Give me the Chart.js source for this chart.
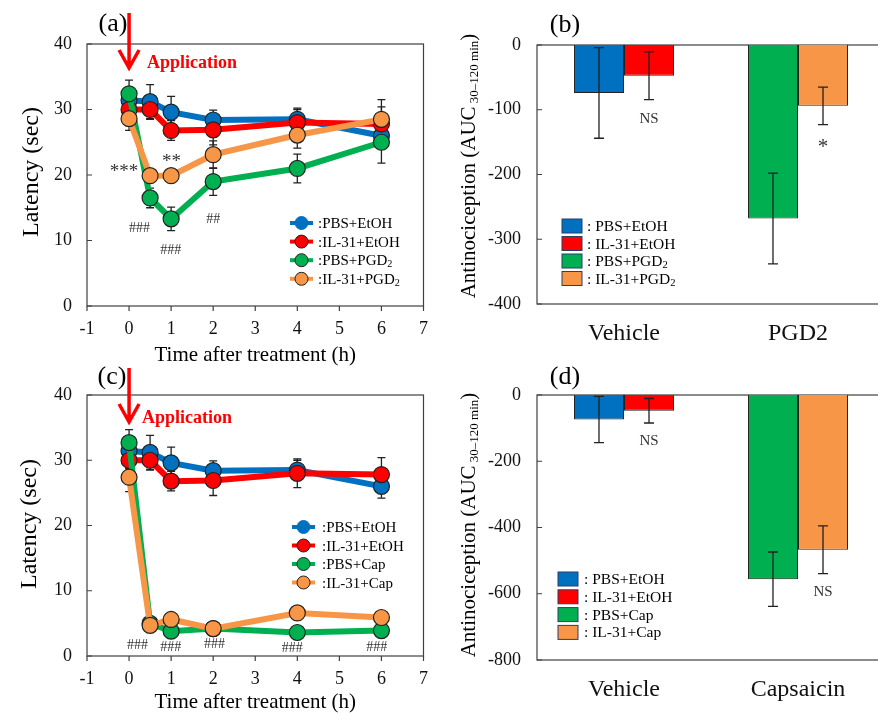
<!DOCTYPE html>
<html>
<head>
<meta charset="utf-8">
<script src="https://cdn.jsdelivr.net/npm/chart.js@4.4.1/dist/chart.umd.min.js"></script>
<style>
    html, body { margin: 0; padding: 0; background: #fff; width: 878px; height: 713px; overflow: hidden; }
    canvas { position: absolute; }
</style>
</head>
<body>
<canvas id="chart-a" width="440" height="370" style="left:0;top:0"></canvas>
<canvas id="chart-b" width="450" height="360" style="left:440px;top:0"></canvas>
<canvas id="chart-c" width="440" height="363" style="left:0;top:350px"></canvas>
<canvas id="chart-d" width="450" height="363" style="left:440px;top:350px"></canvas>
<script>
// time points (h) and tick labels
const hours = [0, 0.5, 1, 2, 4, 6];
const timeTicks = [-1, 0, 1, 2, 3, 4, 5, 6, 7];
const latencyTicks = [0, 10, 20, 30, 40];

// latency (sec), mean and SEM - controls shared by (a) and (c)
const latPbsEtoh = [31.4, 31.2, 29.6, 28.4, 28.5, 26.0];
const latPbsEtohErr = [1.5, 2.6, 2.4, 1.5, 1.5, 1.8];
const latIl31Etoh = [30.0, 30.0, 26.8, 26.9, 28.0, 27.8];
const latIl31EtohErr = [1.3, 1.5, 1.5, 2.3, 2.2, 2.6];

// (a) PGD2
const latPbsPgd2 = [32.4, 16.5, 13.3, 19.0, 21.0, 25.0];
const latPbsPgd2Err = [2.1, 1.5, 1.8, 2.1, 2.2, 3.2];
const latIl31Pgd2 = [28.6, 19.9, 19.9, 23.1, 26.1, 28.5];
const latIl31Pgd2Err = [1.8, 1.0, 1.0, 2.1, 2.0, 3.0];

// (c) capsaicin
const latPbsCap = [32.7, 5.0, 3.8, 4.2, 3.6, 3.9];
const latPbsCapErr = [2.0, 0.6, 0.5, 0.5, 0.5, 0.6];
const latIl31Cap = [27.4, 4.7, 5.6, 4.2, 6.6, 5.9];
const latIl31CapErr = [2.2, 0.6, 0.8, 0.6, 0.9, 0.8];

// (b) AUC 30-120 min
const aucCategoriesB = ['Vehicle', 'PGD2'];
const aucTicksB = [-400, -300, -200, -100, 0];
const aucPbsB = [-74, -268];
const aucPbsBErr = [70, 70];
const aucIl31B = [-47.5, -94];
const aucIl31BErr = [37, 29];

// (d) AUC 30-120 min
const aucCategoriesD = ['Vehicle', 'Capsaicin'];
const aucTicksD = [-800, -600, -400, -200, 0];
const aucPbsD = [-74, -556];
const aucPbsDErr = [70, 82];
const aucIl31D = [-47.5, -467];
const aucIl31DErr = [37, 72];

const SERIF = "'Liberation Serif', 'Times New Roman', 'DejaVu Serif', serif";
const BLUE = '#0070C0';
const RED = '#FF0000';
const GREEN = '#00B050';
const ORANGE = '#F79646';
const INK = '#222';

const font = (size, bold) => `${bold ? 'bold ' : ''}${size}px ${SERIF}`;

// draws text made of several runs (for subscripts), y is the baseline
const drawRich = (ctx, parts, x, y, align = 'left') => {
    let width = 0;
    parts.forEach((p) => {
        ctx.font = font(p.size, p.bold);
        width += ctx.measureText(p.text).width;
    });
    let cx = align === 'center' ? x - width / 2 : x;
    ctx.textAlign = 'left';
    ctx.textBaseline = 'alphabetic';
    parts.forEach((p) => {
        ctx.font = font(p.size, p.bold);
        ctx.fillStyle = p.color || '#000';
        ctx.fillText(p.text, cx, y + (p.dy || 0));
        cx += ctx.measureText(p.text).width;
    });
};

const labelParts = (label, size) => {
    const parts = [{ text: label[0], size }];
    if (label[1]) {
        parts.push({ text: label[1], size: size * 0.68, dy: 2 });
    }
    return parts;
};

const drawRotated = (ctx, parts, cx, cy) => {
    ctx.save();
    ctx.translate(cx, cy);
    ctx.rotate(-Math.PI / 2);
    drawRich(ctx, parts, 0, parts[0].size * 0.35, 'center');
    ctx.restore();
};

const drawText = (ctx, text, x, y, size, color = '#000', bold = false) => {
    ctx.font = font(size, bold);
    ctx.fillStyle = color;
    ctx.textAlign = 'center';
    ctx.textBaseline = 'middle';
    ctx.fillText(text, x, y);
};

const drawArrow = (ctx, x, top, tip) => {
    ctx.save();
    ctx.strokeStyle = RED;
    ctx.lineWidth = 3.5;
    ctx.beginPath();
    ctx.moveTo(x, top);
    ctx.lineTo(x, tip - 2);
    ctx.moveTo(x - 10, tip - 18);
    ctx.lineTo(x, tip);
    ctx.lineTo(x + 10, tip - 18);
    ctx.stroke();
    ctx.restore();
};

const drawLineLegend = (ctx, items, x, y, gap, textX) => {
    items.forEach((item, i) => {
        const yy = y + i * gap;
        ctx.strokeStyle = item.color;
        ctx.lineWidth = 4;
        ctx.beginPath();
        ctx.moveTo(x, yy);
        ctx.lineTo(x + 23, yy);
        ctx.stroke();
        ctx.beginPath();
        ctx.arc(x + 11.5, yy, 6.5, 0, Math.PI * 2);
        ctx.fillStyle = item.color;
        ctx.fill();
        ctx.lineWidth = 1;
        ctx.strokeStyle = i === 0 ? item.color : INK;
        ctx.stroke();
        drawRich(ctx, labelParts(item.label, 15), textX, yy + 5);
    });
};

const drawBoxLegend = (ctx, items, x, y, gap, textX) => {
    items.forEach((item, i) => {
        const yy = y + i * gap;
        ctx.fillStyle = item.color;
        ctx.fillRect(x, yy - 7, 20, 14);
        ctx.strokeStyle = '#2b3f66';
        ctx.lineWidth = 1;
        ctx.strokeRect(x, yy - 7, 20, 14);
        drawRich(ctx, labelParts(item.label, 15.5), textX, yy + 5);
    });
};

const framePlugin = (yTicks, xTicks) => ({
    id: 'frame',
    beforeDatasetsDraw(chart) {
        const { ctx, chartArea: a, scales } = chart;
        ctx.save();
        ctx.strokeStyle = '#404040';
        ctx.lineWidth = 1.2;
        ctx.strokeRect(a.left, a.top, a.right - a.left, a.bottom - a.top);
        ctx.beginPath();
        yTicks.forEach((v) => {
            const y = scales.y.getPixelForValue(v);
            ctx.moveTo(a.left, y);
            ctx.lineTo(a.left + 5, y);
        });
        (xTicks || []).forEach((v) => {
            const x = scales.x.getPixelForValue(v);
            ctx.moveTo(x, a.bottom);
            ctx.lineTo(x, a.bottom + 5);
        });
        ctx.stroke();
        ctx.restore();
    },
});

const errorBarPlugin = (cap, onTop) => ({
    id: 'errorBars',
    [onTop ? 'afterDatasetsDraw' : 'beforeDatasetsDraw'](chart) {
        const { ctx, scales } = chart;
        ctx.save();
        ctx.strokeStyle = INK;
        ctx.lineWidth = 1.3;
        chart.data.datasets.forEach((ds, di) => {
            const meta = chart.getDatasetMeta(di);
            meta.data.forEach((el, i) => {
                const d = ds.data[i];
                const v = typeof d === 'object' ? d.y : d;
                const e = ds.errors[i];
                const top = scales.y.getPixelForValue(v + e);
                const bottom = scales.y.getPixelForValue(v - e);
                ctx.beginPath();
                ctx.moveTo(el.x, top);
                ctx.lineTo(el.x, bottom);
                ctx.moveTo(el.x - cap, top);
                ctx.lineTo(el.x + cap, top);
                ctx.moveTo(el.x - cap, bottom);
                ctx.lineTo(el.x + cap, bottom);
                ctx.stroke();
            });
        });
        ctx.restore();
    },
});

const decoPlugin = (draw) => ({
    id: 'deco',
    afterDraw(chart) {
        chart.ctx.save();
        draw(chart, chart.ctx);
        chart.ctx.restore();
    },
});

const lineSeries = (label, ys, errs, color, order) => ({
    label,
    data: hours.map((h, i) => ({ x: h, y: ys[i] })),
    errors: errs,
    order,
    borderColor: color,
    backgroundColor: color,
    borderWidth: 6,
    tension: 0,
    pointRadius: 8,
    pointBackgroundColor: color,
    pointBorderColor: INK,
    pointBorderWidth: 1.2,
});

const tickFont = (size) => ({ family: SERIF, size });

const lineOptions = (top, xHeight) => ({
    responsive: false,
    animation: false,
    events: [],
    layout: { padding: { top, right: 7, left: 0, bottom: 0 } },
    plugins: { legend: { display: false }, tooltip: { enabled: false } },
    scales: {
        x: {
            type: 'linear',
            min: -1,
            max: 7,
            afterBuildTicks: (s) => { s.ticks = timeTicks.map((value) => ({ value })); },
            afterFit: (s) => { s.height = xHeight; },
            grid: { display: false, drawTicks: false },
            border: { display: false },
            ticks: { padding: 12, color: '#111', font: tickFont(18) },
        },
        y: {
            min: 0,
            max: 40,
            afterBuildTicks: (s) => { s.ticks = latencyTicks.map((value) => ({ value })); },
            afterFit: (s) => { s.width = 87; },
            grid: { display: false, drawTicks: false },
            border: { display: false },
            ticks: { padding: 15, color: '#111', font: tickFont(18) },
        },
    },
});

const barOptions = (top, xHeight, min, ticks) => ({
    responsive: false,
    animation: false,
    events: [],
    layout: { padding: { top, right: 5, left: 0, bottom: 0 } },
    plugins: { legend: { display: false }, tooltip: { enabled: false } },
    scales: {
        x: {
            afterFit: (s) => { s.height = xHeight; },
            grid: { display: false, drawTicks: false },
            border: { display: false },
            ticks: { padding: 15, color: '#111', font: tickFont(24) },
        },
        y: {
            min,
            max: 0,
            afterBuildTicks: (s) => { s.ticks = ticks.map((value) => ({ value })); },
            afterFit: (s) => { s.width = 97; },
            grid: { display: false, drawTicks: false },
            border: { display: false },
            ticks: { padding: 16, color: '#111', font: tickFont(18) },
        },
    },
});

const barSeries = (label, values, errs, colors) => ({
    label,
    data: values,
    errors: errs,
    backgroundColor: colors,
    borderColor: INK,
    borderWidth: 1,
    categoryPercentage: 0.575,
    barPercentage: 1,
});

const drawAt = (chart, items) => {
    const { ctx, scales } = chart;
    items.forEach((s) => {
        drawText(ctx, s.text, scales.x.getPixelForValue(s.x), scales.y.getPixelForValue(s.y), s.size, '#333');
    });
};

const drawUnderBar = (chart, di, i, text, value, size) => {
    const el = chart.getDatasetMeta(di).data[i];
    drawText(chart.ctx, text, el.x, chart.scales.y.getPixelForValue(value), size, '#333');
};

const aucTitle = [
    { text: 'Antinociception (AUC', size: 21 },
    { text: ' 30\u2013120 min', size: 13, dy: 3 },
    { text: ')', size: 21 },
];

// (a)
new Chart(document.getElementById('chart-a'), {
    type: 'line',
    data: {
        datasets: [
            lineSeries('PBS+EtOH', latPbsEtoh, latPbsEtohErr, BLUE, 4),
            lineSeries('IL-31+EtOH', latIl31Etoh, latIl31EtohErr, RED, 3),
            lineSeries('PBS+PGD2', latPbsPgd2, latPbsPgd2Err, GREEN, 2),
            lineSeries('IL-31+PGD2', latIl31Pgd2, latIl31Pgd2Err, ORANGE, 1),
        ],
    },
    options: lineOptions(44, 64),
    plugins: [
        framePlugin(latencyTicks, timeTicks),
        errorBarPlugin(4, false),
        decoPlugin((chart, ctx) => {
            const a = chart.chartArea;
            const x0 = chart.scales.x.getPixelForValue(0);
            drawText(ctx, '(a)', 113, 24, 26);
            drawArrow(ctx, x0, 13, a.top + 24);
            drawRich(ctx, [{ text: 'Application', size: 18, bold: true, color: RED }], x0 + 18, a.top + 24);
            drawRotated(ctx, [{ text: 'Latency (sec)', size: 24 }], 30, 172);
            drawRich(ctx, [{ text: 'Time after treatment (h)', size: 21 }], (a.left + a.right) / 2, 361, 'center');
            drawAt(chart, [
                { text: '***', x: -0.12, y: 20.4, size: 19 },
                { text: '**', x: 1.01, y: 22.0, size: 19 },
                { text: '###', x: 0.25, y: 11.9, size: 14 },
                { text: '###', x: 0.99, y: 8.5, size: 14 },
                { text: '##', x: 2.0, y: 13.3, size: 14 },
            ]);
            drawLineLegend(ctx, [
                { label: [':PBS+EtOH'], color: BLUE },
                { label: [':IL-31+EtOH'], color: RED },
                { label: [':PBS+PGD', '2'], color: GREEN },
                { label: [':IL-31+PGD', '2'], color: ORANGE },
            ], 290, 223, 18.6, 318);
        }),
    ],
});

// (b)
new Chart(document.getElementById('chart-b'), {
    type: 'bar',
    data: {
        labels: aucCategoriesB,
        datasets: [
            barSeries('PBS', aucPbsB, aucPbsBErr, [BLUE, GREEN]),
            barSeries('IL-31', aucIl31B, aucIl31BErr, [RED, ORANGE]),
        ],
    },
    options: barOptions(45, 56, -400, aucTicksB),
    plugins: [
        framePlugin(aucTicksB, null),
        errorBarPlugin(5, true),
        decoPlugin((chart, ctx) => {
            drawText(ctx, '(b)', 125, 25, 26);
            drawRotated(ctx, aucTitle, 28, 166);
            drawUnderBar(chart, 1, 0, 'NS', -114, 15);
            drawUnderBar(chart, 1, 1, '*', -158, 21);
            drawBoxLegend(ctx, [
                { label: [': PBS+EtOH'], color: BLUE },
                { label: [': IL-31+EtOH'], color: RED },
                { label: [': PBS+PGD', '2'], color: GREEN },
                { label: [': IL-31+PGD', '2'], color: ORANGE },
            ], 122, 226, 17.5, 147);
        }),
    ],
});

// (c)
new Chart(document.getElementById('chart-c'), {
    type: 'line',
    data: {
        datasets: [
            lineSeries('PBS+EtOH', latPbsEtoh, latPbsEtohErr, BLUE, 4),
            lineSeries('IL-31+EtOH', latIl31Etoh, latIl31EtohErr, RED, 3),
            lineSeries('PBS+Cap', latPbsCap, latPbsCapErr, GREEN, 2),
            lineSeries('IL-31+Cap', latIl31Cap, latIl31CapErr, ORANGE, 1),
        ],
    },
    options: lineOptions(45, 57),
    plugins: [
        framePlugin(latencyTicks, timeTicks),
        errorBarPlugin(4, false),
        decoPlugin((chart, ctx) => {
            const a = chart.chartArea;
            const x0 = chart.scales.x.getPixelForValue(0);
            drawText(ctx, '(c)', 112, 27, 26);
            drawArrow(ctx, x0, 18, a.top + 27);
            drawRich(ctx, [{ text: 'Application', size: 18, bold: true, color: RED }], x0 + 13, a.top + 28);
            drawRotated(ctx, [{ text: 'Latency (sec)', size: 24 }], 28, 174);
            drawRich(ctx, [{ text: 'Time after treatment (h)', size: 21 }], (a.left + a.right) / 2, 358, 'center');
            drawAt(chart, [
                { text: '###', x: 0.2, y: 1.7, size: 14 },
                { text: '###', x: 0.99, y: 1.4, size: 14 },
                { text: '###', x: 2.03, y: 1.8, size: 14 },
                { text: '###', x: 3.88, y: 1.2, size: 14 },
                { text: '###', x: 5.89, y: 1.4, size: 14 },
            ]);
            drawLineLegend(ctx, [
                { label: [':PBS+EtOH'], color: BLUE },
                { label: [':IL-31+EtOH'], color: RED },
                { label: [':PBS+Cap'], color: GREEN },
                { label: [':IL-31+Cap'], color: ORANGE },
            ], 292, 177, 18.5, 322);
        }),
    ],
});

// (d)
new Chart(document.getElementById('chart-d'), {
    type: 'bar',
    data: {
        labels: aucCategoriesD,
        datasets: [
            barSeries('PBS', aucPbsD, aucPbsDErr, [BLUE, GREEN]),
            barSeries('IL-31', aucIl31D, aucIl31DErr, [RED, ORANGE]),
        ],
    },
    options: barOptions(45, 53, -800, aucTicksD),
    plugins: [
        framePlugin(aucTicksD, null),
        errorBarPlugin(5, true),
        decoPlugin((chart, ctx) => {
            drawText(ctx, '(d)', 125, 27, 26);
            drawRotated(ctx, aucTitle, 28, 175);
            drawUnderBar(chart, 1, 0, 'NS', -138, 15);
            drawUnderBar(chart, 1, 1, 'NS', -595, 15);
            drawBoxLegend(ctx, [
                { label: [': PBS+EtOH'], color: BLUE },
                { label: [': IL-31+EtOH'], color: RED },
                { label: [': PBS+Cap'], color: GREEN },
                { label: [': IL-31+Cap'], color: ORANGE },
            ], 118, 229, 17.8, 144);
        }),
    ],
});
</script>
</body>
</html>
